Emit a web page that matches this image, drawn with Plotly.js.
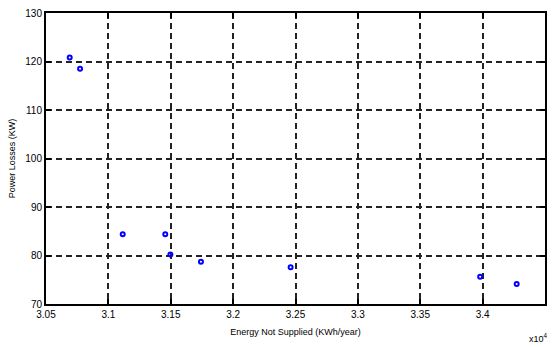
<!DOCTYPE html>
<html><head><meta charset="utf-8">
<script src="https://cdn.plot.ly/plotly-3.0.1.min.js"></script>
<style>body{margin:0;background:#fff}#c{width:553px;height:347px}</style>
</head><body><div id="c"></div>
<script>
const energyNotSupplied = [30690, 30773, 31115, 31456, 31497, 31742, 32461, 33980, 34273];
const powerLosses = [120.8, 118.5, 84.4, 84.4, 80.2, 78.7, 77.6, 75.6, 74.1];
const xTickVals = [30500, 31000, 31500, 32000, 32500, 33000, 33500, 34000, 34500];
const xTickText = ["3.05", "3.1", "3.15", "3.2", "3.25", "3.3", "3.35", "3.4", "3.45"];
const yTickVals = [70, 80, 90, 100, 110, 120, 130];

const trace = {
  x: energyNotSupplied, y: powerLosses, type: 'scatter', mode: 'markers',
  marker: {symbol: 'circle-open', size: 4, color: '#0000ff', line: {width: 2, color: '#0000ff'}}
};
const fnt = {family: '"Liberation Sans Narrow", "Liberation Sans", Arial, sans-serif', size: 10, color: '#000'};
const tfnt = {family: '"Liberation Sans Narrow", "Liberation Sans", Arial, sans-serif', size: 9, color: '#000'};
const layout = {
  width: 553, height: 347,
  margin: {l: 46, r: 8, t: 13, b: 43},
  paper_bgcolor: '#fff', plot_bgcolor: '#fff',
  showlegend: false,
  font: fnt,
  xaxis: {
    range: [30500, 34500], tickvals: xTickVals, ticktext: xTickText,
    showline: true, mirror: 'ticks', linecolor: '#000', linewidth: 2,
    ticks: 'inside', ticklen: 5, tickcolor: '#000', tickwidth: 2,
    showgrid: true, gridcolor: '#222', griddash: '6px,4px', gridwidth: 2,
    zeroline: false, tickfont: fnt,
    title: {text: 'Energy Not Supplied (KWh/year)', font: tfnt, standoff: 10}
  },
  yaxis: {
    range: [70, 130], tickvals: yTickVals,
    showline: true, mirror: 'ticks', linecolor: '#000', linewidth: 2,
    ticks: 'inside', ticklen: 5, tickcolor: '#000', tickwidth: 2,
    showgrid: true, gridcolor: '#222', griddash: '6px,4px', gridwidth: 2,
    zeroline: false, tickfont: fnt,
    title: {text: 'Power Losses (KW)', font: tfnt, standoff: 8}
  },
  annotations: [{
    xref: 'paper', yref: 'paper', x: 1.0, y: 0, xanchor: 'right', yanchor: 'top', yshift: -26, xshift: 5,
    text: 'x10<sup>4</sup>', showarrow: false, font: tfnt
  }]
};
Plotly.newPlot('c', [trace], layout, {displayModeBar: false, staticPlot: true});
</script></body></html>
